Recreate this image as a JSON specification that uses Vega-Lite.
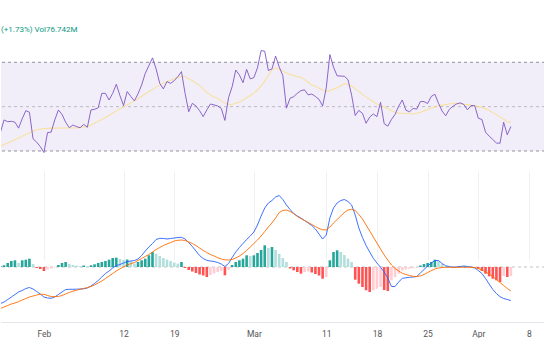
{
"$schema": "https://vega.github.io/schema/vega-lite/v6.json",
"width": 544, "height": 322, "padding": 0, "background": "white",
"autosize": {"type": "pad"},
"config": {"view": {"stroke": null}, "scale": {"continuousPadding": 0}},
"title": {"text": "(+1.73%) Vol76.742M", "anchor": "start", "frame": "group", "offset": -34, "fontSize": 8, "fontWeight": "normal", "color": "#089981", "font": "Roboto"},
"data": {"values": [
{"t":"2024-01-26T00:00","r":38.5,"m":32.2,"a":-3.65,"s":-4.15,"h":0.1,"c":"g"},
{"t":"2024-01-26T12:00","r":44.0,"m":32.9,"a":-3.5,"s":-4.0,"h":0.17,"c":"g"},
{"t":"2024-01-27T00:00","r":43.2,"m":33.6,"a":-3.25,"s":-3.85,"h":0.4,"c":"g"},
{"t":"2024-01-27T12:00","r":43.4,"m":34.3,"a":-3.0,"s":-3.7,"h":0.6,"c":"g"},
{"t":"2024-01-28T00:00","r":43.0,"m":35.1,"a":-2.75,"s":-3.6,"h":0.67,"c":"g"},
{"t":"2024-01-28T12:00","r":40.3,"m":35.9,"a":-2.5,"s":-3.47,"h":0.4,"c":"lg"},
{"t":"2024-01-29T00:00","r":44.5,"m":36.7,"a":-2.35,"s":-3.3,"h":0.67,"c":"g"},
{"t":"2024-01-29T12:00","r":48.2,"m":37.4,"a":-2.15,"s":-3.15,"h":0.73,"c":"g"},
{"t":"2024-01-30T00:00","r":47.5,"m":38.2,"a":-2.05,"s":-3.0,"h":0.83,"c":"g"},
{"t":"2024-01-30T12:00","r":35.5,"m":38.9,"a":-2.2,"s":-2.9,"h":0.3,"c":"lg"},
{"t":"2024-01-31T00:00","r":34.0,"m":39.6,"a":-2.45,"s":-2.8,"h":-0.1,"c":"r"},
{"t":"2024-01-31T12:00","r":32.0,"m":39.9,"a":-2.7,"s":-2.73,"h":-0.2,"c":"r"},
{"t":"2024-02-01T00:00","r":29.3,"m":40.1,"a":-3.0,"s":-2.73,"h":-0.4,"c":"r"},
{"t":"2024-02-01T12:00","r":38.3,"m":40.2,"a":-3.1,"s":-2.85,"h":-0.25,"c":"lr"},
{"t":"2024-02-02T00:00","r":38.5,"m":40.3,"a":-3.13,"s":-2.95,"h":-0.15,"c":"lr"},
{"t":"2024-02-02T12:00","r":44.0,"m":40.3,"a":-3.0,"s":-2.97,"h":-0.05,"c":"lr"},
{"t":"2024-02-03T00:00","r":48.5,"m":40.3,"a":-2.75,"s":-2.95,"h":0.2,"c":"g"},
{"t":"2024-02-03T12:00","r":46.5,"m":40.4,"a":-2.5,"s":-2.85,"h":0.4,"c":"g"},
{"t":"2024-02-04T00:00","r":43.0,"m":40.4,"a":-2.25,"s":-2.7,"h":0.5,"c":"g"},
{"t":"2024-02-04T12:00","r":40.5,"m":40.4,"a":-2.23,"s":-2.55,"h":0.3,"c":"lg"},
{"t":"2024-02-05T00:00","r":41.7,"m":40.4,"a":-2.23,"s":-2.42,"h":0.2,"c":"lg"},
{"t":"2024-02-05T12:00","r":41.0,"m":40.4,"a":-2.22,"s":-2.32,"h":0.15,"c":"lg"},
{"t":"2024-02-06T00:00","r":40.5,"m":40.6,"a":-2.2,"s":-2.23,"h":0.1,"c":"lg"},
{"t":"2024-02-06T12:00","r":42.0,"m":40.8,"a":-2.18,"s":-2.15,"h":0.15,"c":"g"},
{"t":"2024-02-07T00:00","r":40.7,"m":41.0,"a":-2.1,"s":-2.05,"h":0.05,"c":"lg"},
{"t":"2024-02-07T12:00","r":48.5,"m":41.7,"a":-1.9,"s":-1.95,"h":0.17,"c":"g"},
{"t":"2024-02-08T00:00","r":48.8,"m":42.6,"a":-1.65,"s":-1.8,"h":0.27,"c":"g"},
{"t":"2024-02-08T12:00","r":49.5,"m":43.4,"a":-1.35,"s":-1.6,"h":0.4,"c":"g"},
{"t":"2024-02-09T00:00","r":56.0,"m":44.2,"a":-1.0,"s":-1.4,"h":0.5,"c":"g"},
{"t":"2024-02-09T12:00","r":56.0,"m":45.1,"a":-0.65,"s":-1.15,"h":0.6,"c":"g"},
{"t":"2024-02-10T00:00","r":53.0,"m":46.0,"a":-0.4,"s":-0.9,"h":0.73,"c":"g"},
{"t":"2024-02-10T12:00","r":56.0,"m":47.1,"a":-0.1,"s":-0.65,"h":0.9,"c":"g"},
{"t":"2024-02-11T00:00","r":60.1,"m":48.1,"a":0.15,"s":-0.4,"h":0.93,"c":"g"},
{"t":"2024-02-11T12:00","r":55.0,"m":49.1,"a":0.25,"s":-0.18,"h":0.8,"c":"lg"},
{"t":"2024-02-12T00:00","r":50.5,"m":49.9,"a":0.4,"s":0.02,"h":0.7,"c":"lg"},
{"t":"2024-02-12T12:00","r":56.8,"m":50.7,"a":0.53,"s":0.2,"h":0.75,"c":"g"},
{"t":"2024-02-13T00:00","r":54.6,"m":51.6,"a":0.6,"s":0.33,"h":0.6,"c":"lg"},
{"t":"2024-02-13T12:00","r":52.6,"m":52.6,"a":0.65,"s":0.45,"h":0.35,"c":"lg"},
{"t":"2024-02-14T00:00","r":55.8,"m":53.6,"a":0.8,"s":0.65,"h":0.5,"c":"g"},
{"t":"2024-02-14T12:00","r":59.8,"m":54.7,"a":1.15,"s":0.85,"h":0.67,"c":"g"},
{"t":"2024-02-15T00:00","r":65.0,"m":55.7,"a":1.6,"s":1.05,"h":0.83,"c":"g"},
{"t":"2024-02-15T12:00","r":68.5,"m":56.8,"a":2.0,"s":1.25,"h":1.17,"c":"g"},
{"t":"2024-02-16T00:00","r":72.0,"m":57.8,"a":2.35,"s":1.5,"h":1.5,"c":"g"},
{"t":"2024-02-16T12:00","r":67.0,"m":58.8,"a":2.75,"s":1.75,"h":1.33,"c":"lg"},
{"t":"2024-02-17T00:00","r":60.5,"m":59.7,"a":2.87,"s":1.95,"h":1.1,"c":"lg"},
{"t":"2024-02-17T12:00","r":58.0,"m":60.6,"a":2.85,"s":2.15,"h":0.9,"c":"lg"},
{"t":"2024-02-18T00:00","r":61.3,"m":61.2,"a":2.8,"s":2.3,"h":0.75,"c":"lg"},
{"t":"2024-02-18T12:00","r":60.5,"m":61.9,"a":2.85,"s":2.45,"h":0.6,"c":"lg"},
{"t":"2024-02-19T00:00","r":61.7,"m":62.6,"a":2.9,"s":2.6,"h":0.45,"c":"lg"},
{"t":"2024-02-19T12:00","r":63.5,"m":63.2,"a":2.95,"s":2.67,"h":0.33,"c":"lg"},
{"t":"2024-02-20T00:00","r":65.8,"m":63.6,"a":2.97,"s":2.7,"h":0.5,"c":"g"},
{"t":"2024-02-20T12:00","r":56.0,"m":63.6,"a":2.8,"s":2.65,"h":-0.1,"c":"r"},
{"t":"2024-02-21T00:00","r":47.7,"m":62.6,"a":2.45,"s":2.5,"h":-0.3,"c":"r"},
{"t":"2024-02-21T12:00","r":51.5,"m":61.7,"a":2.05,"s":2.35,"h":-0.45,"c":"r"},
{"t":"2024-02-22T00:00","r":50.3,"m":60.7,"a":1.6,"s":2.15,"h":-0.6,"c":"r"},
{"t":"2024-02-22T12:00","r":48.2,"m":59.5,"a":1.15,"s":1.9,"h":-0.75,"c":"r"},
{"t":"2024-02-23T00:00","r":45.5,"m":58.0,"a":0.85,"s":1.65,"h":-0.85,"c":"r"},
{"t":"2024-02-23T12:00","r":48.5,"m":56.5,"a":0.67,"s":1.45,"h":-1.0,"c":"r"},
{"t":"2024-02-24T00:00","r":51.2,"m":55.3,"a":0.6,"s":1.25,"h":-0.8,"c":"lr"},
{"t":"2024-02-24T12:00","r":50.8,"m":54.4,"a":0.55,"s":1.1,"h":-0.65,"c":"lr"},
{"t":"2024-02-25T00:00","r":50.3,"m":53.8,"a":0.45,"s":0.93,"h":-0.5,"c":"lr"},
{"t":"2024-02-25T12:00","r":49.2,"m":52.6,"a":0.3,"s":0.8,"h":-0.4,"c":"lr"},
{"t":"2024-02-26T00:00","r":43.8,"m":51.6,"a":0.05,"s":0.72,"h":-0.83,"c":"r"},
{"t":"2024-02-26T12:00","r":54.0,"m":51.0,"a":0.35,"s":0.7,"h":-0.3,"c":"lr"},
{"t":"2024-02-27T00:00","r":59.0,"m":51.0,"a":0.95,"s":0.75,"h":0.2,"c":"g"},
{"t":"2024-02-27T12:00","r":66.5,"m":51.6,"a":1.5,"s":0.9,"h":0.5,"c":"g"},
{"t":"2024-02-28T00:00","r":64.3,"m":52.1,"a":1.95,"s":1.1,"h":0.67,"c":"g"},
{"t":"2024-02-28T12:00","r":60.8,"m":53.0,"a":2.35,"s":1.35,"h":0.83,"c":"g"},
{"t":"2024-02-29T00:00","r":66.8,"m":54.0,"a":2.75,"s":1.65,"h":1.17,"c":"g"},
{"t":"2024-02-29T12:00","r":62.5,"m":55.0,"a":3.1,"s":2.0,"h":1.1,"c":"lg"},
{"t":"2024-03-01T00:00","r":63.1,"m":56.1,"a":3.5,"s":2.35,"h":1.17,"c":"g"},
{"t":"2024-03-01T12:00","r":67.5,"m":57.5,"a":4.2,"s":2.7,"h":1.4,"c":"g"},
{"t":"2024-03-02T00:00","r":75.3,"m":59.4,"a":5.1,"s":3.1,"h":1.7,"c":"g"},
{"t":"2024-03-02T12:00","r":75.0,"m":61.5,"a":5.9,"s":3.55,"h":2.17,"c":"g"},
{"t":"2024-03-03T00:00","r":66.3,"m":64.0,"a":6.4,"s":4.0,"h":1.9,"c":"lg"},
{"t":"2024-03-03T12:00","r":67.0,"m":66.5,"a":6.65,"s":4.4,"h":2.0,"c":"g"},
{"t":"2024-03-04T00:00","r":72.8,"m":67.5,"a":7.0,"s":4.9,"h":1.7,"c":"lg"},
{"t":"2024-03-04T12:00","r":67.9,"m":66.8,"a":7.15,"s":5.45,"h":1.3,"c":"lg"},
{"t":"2024-03-05T00:00","r":64.0,"m":66.0,"a":6.75,"s":5.65,"h":0.9,"c":"lg"},
{"t":"2024-03-05T12:00","r":49.3,"m":65.2,"a":6.2,"s":5.7,"h":0.5,"c":"lg"},
{"t":"2024-03-06T00:00","r":53.8,"m":64.5,"a":5.75,"s":5.55,"h":-0.15,"c":"r"},
{"t":"2024-03-06T12:00","r":54.5,"m":64.0,"a":5.35,"s":5.35,"h":-0.33,"c":"r"},
{"t":"2024-03-07T00:00","r":56.0,"m":63.5,"a":5.1,"s":5.05,"h":-0.5,"c":"r"},
{"t":"2024-03-07T12:00","r":57.2,"m":63.2,"a":4.9,"s":4.85,"h":-0.67,"c":"r"},
{"t":"2024-03-08T00:00","r":57.6,"m":62.2,"a":4.65,"s":4.65,"h":-0.5,"c":"lr"},
{"t":"2024-03-08T12:00","r":55.3,"m":61.0,"a":4.4,"s":4.45,"h":-0.45,"c":"lr"},
{"t":"2024-03-09T00:00","r":55.7,"m":59.8,"a":4.15,"s":4.25,"h":-0.55,"c":"r"},
{"t":"2024-03-09T12:00","r":54.6,"m":59.2,"a":3.8,"s":4.05,"h":-0.7,"c":"r"},
{"t":"2024-03-10T00:00","r":53.3,"m":58.3,"a":3.3,"s":3.85,"h":-0.85,"c":"r"},
{"t":"2024-03-10T12:00","r":50.3,"m":57.5,"a":2.8,"s":3.73,"h":-1.17,"c":"r"},
{"t":"2024-03-11T00:00","r":58.5,"m":56.9,"a":3.2,"s":3.7,"h":-1.0,"c":"lr"},
{"t":"2024-03-11T12:00","r":73.5,"m":57.3,"a":4.9,"s":4.0,"h":0.67,"c":"g"},
{"t":"2024-03-12T00:00","r":67.8,"m":57.9,"a":5.9,"s":4.4,"h":1.5,"c":"g"},
{"t":"2024-03-12T12:00","r":63.9,"m":58.5,"a":6.4,"s":4.75,"h":1.67,"c":"g"},
{"t":"2024-03-13T00:00","r":63.8,"m":59.4,"a":6.65,"s":5.1,"h":1.5,"c":"lg"},
{"t":"2024-03-13T12:00","r":63.7,"m":60.4,"a":6.75,"s":5.45,"h":1.2,"c":"lg"},
{"t":"2024-03-14T00:00","r":62.2,"m":60.0,"a":6.55,"s":5.7,"h":0.85,"c":"lg"},
{"t":"2024-03-14T12:00","r":55.2,"m":59.3,"a":6.2,"s":5.77,"h":0.5,"c":"lg"},
{"t":"2024-03-15T00:00","r":46.0,"m":58.0,"a":5.2,"s":5.65,"h":-1.27,"c":"r"},
{"t":"2024-03-15T12:00","r":48.3,"m":56.9,"a":3.9,"s":5.25,"h":-1.67,"c":"r"},
{"t":"2024-03-16T00:00","r":47.0,"m":55.4,"a":2.95,"s":4.8,"h":-2.0,"c":"r"},
{"t":"2024-03-16T12:00","r":42.5,"m":54.4,"a":2.15,"s":4.2,"h":-2.33,"c":"r"},
{"t":"2024-03-17T00:00","r":45.3,"m":53.3,"a":1.5,"s":3.6,"h":-2.5,"c":"r"},
{"t":"2024-03-17T12:00","r":46.7,"m":52.2,"a":0.87,"s":3.0,"h":-2.33,"c":"lr"},
{"t":"2024-03-18T00:00","r":45.5,"m":51.2,"a":0.4,"s":2.4,"h":-2.17,"c":"lr"},
{"t":"2024-03-18T12:00","r":52.0,"m":50.4,"a":-0.03,"s":1.8,"h":-2.0,"c":"lr"},
{"t":"2024-03-19T00:00","r":42.3,"m":49.8,"a":-0.5,"s":1.2,"h":-2.3,"c":"r"},
{"t":"2024-03-19T12:00","r":41.2,"m":49.0,"a":-1.1,"s":0.7,"h":-2.4,"c":"r"},
{"t":"2024-03-20T00:00","r":44.2,"m":48.3,"a":-1.95,"s":0.2,"h":-1.33,"c":"lr"},
{"t":"2024-03-20T12:00","r":46.5,"m":47.6,"a":-1.95,"s":-0.15,"h":-1.0,"c":"lr"},
{"t":"2024-03-21T00:00","r":50.2,"m":47.1,"a":-1.5,"s":-0.4,"h":-0.67,"c":"lr"},
{"t":"2024-03-21T12:00","r":53.0,"m":47.0,"a":-1.13,"s":-0.63,"h":-0.35,"c":"lr"},
{"t":"2024-03-22T00:00","r":48.4,"m":46.9,"a":-1.08,"s":-0.75,"h":-0.25,"c":"lr"},
{"t":"2024-03-22T12:00","r":47.7,"m":46.8,"a":-1.03,"s":-0.85,"h":-0.18,"c":"lr"},
{"t":"2024-03-23T00:00","r":49.2,"m":46.7,"a":-1.0,"s":-0.93,"h":-0.12,"c":"lr"},
{"t":"2024-03-23T12:00","r":48.9,"m":47.0,"a":-0.95,"s":-0.95,"h":-0.05,"c":"lr"},
{"t":"2024-03-24T00:00","r":52.3,"m":47.5,"a":-0.6,"s":-0.9,"h":0.15,"c":"g"},
{"t":"2024-03-24T12:00","r":52.3,"m":48.1,"a":-0.25,"s":-0.75,"h":0.3,"c":"g"},
{"t":"2024-03-25T00:00","r":51.4,"m":48.7,"a":0.1,"s":-0.55,"h":0.4,"c":"g"},
{"t":"2024-03-25T12:00","r":54.6,"m":49.3,"a":0.4,"s":-0.37,"h":0.5,"c":"g"},
{"t":"2024-03-26T00:00","r":55.6,"m":49.9,"a":0.65,"s":-0.2,"h":0.73,"c":"g"},
{"t":"2024-03-26T12:00","r":51.5,"m":50.4,"a":0.65,"s":-0.1,"h":0.6,"c":"lg"},
{"t":"2024-03-27T00:00","r":48.0,"m":50.7,"a":0.35,"s":-0.05,"h":0.3,"c":"lg"},
{"t":"2024-03-27T12:00","r":45.9,"m":51.0,"a":0.12,"s":-0.03,"h":0.1,"c":"lg"},
{"t":"2024-03-28T00:00","r":48.8,"m":51.2,"a":0.05,"s":-0.03,"h":0.05,"c":"lg"},
{"t":"2024-03-28T12:00","r":50.2,"m":51.4,"a":-0.03,"s":-0.03,"h":-0.03,"c":"r"},
{"t":"2024-03-29T00:00","r":51.2,"m":51.5,"a":0.0,"s":-0.03,"h":0.03,"c":"g"},
{"t":"2024-03-29T12:00","r":51.7,"m":51.3,"a":0.05,"s":-0.03,"h":0.05,"c":"g"},
{"t":"2024-03-30T00:00","r":51.0,"m":51.1,"a":0.1,"s":-0.03,"h":0.06,"c":"g"},
{"t":"2024-03-30T12:00","r":48.6,"m":50.9,"a":0.05,"s":-0.03,"h":0.03,"c":"lg"},
{"t":"2024-03-31T00:00","r":50.5,"m":50.7,"a":0.0,"s":-0.03,"h":0.02,"c":"lg"},
{"t":"2024-03-31T12:00","r":50.5,"m":50.4,"a":-0.1,"s":-0.05,"h":-0.05,"c":"r"},
{"t":"2024-04-01T00:00","r":44.8,"m":50.0,"a":-0.35,"s":-0.15,"h":-0.17,"c":"r"},
{"t":"2024-04-01T12:00","r":44.2,"m":49.6,"a":-0.65,"s":-0.3,"h":-0.4,"c":"r"},
{"t":"2024-04-02T00:00","r":38.5,"m":49.2,"a":-1.15,"s":-0.5,"h":-0.67,"c":"r"},
{"t":"2024-04-02T12:00","r":36.7,"m":48.3,"a":-1.7,"s":-0.7,"h":-0.93,"c":"r"},
{"t":"2024-04-03T00:00","r":35.2,"m":47.3,"a":-2.25,"s":-0.95,"h":-1.17,"c":"r"},
{"t":"2024-04-03T12:00","r":33.6,"m":46.4,"a":-2.65,"s":-1.25,"h":-1.33,"c":"r"},
{"t":"2024-04-04T00:00","r":33.5,"m":45.4,"a":-2.97,"s":-1.55,"h":-1.5,"c":"r"},
{"t":"2024-04-04T12:00","r":43.0,"m":44.3,"a":-3.15,"s":-1.85,"h":-0.9,"c":"lr"},
{"t":"2024-04-05T00:00","r":37.3,"m":43.2,"a":-3.25,"s":-2.15,"h":-1.0,"c":"r"},
{"t":"2024-04-05T12:00","r":41.0,"m":42.8,"a":-3.35,"s":-2.4,"h":-0.9,"c":"lr"}
]},
"layer": [
 {"layer": [
  {"data": {"values": [{}]}, "mark": {"type": "rect", "color": "#7e57c2", "opacity": 0.1},
   "encoding": {"y": {"datum": 70, "type": "quantitative", "scale": {"domain": [30, 70], "range": [151, 62.3], "nice": false, "zero": false}, "axis": null}, "y2": {"datum": 30}}},
  {"data": {"values": [{"v": 70}, {"v": 30}]}, "mark": {"type": "rule", "color": "#787b86", "strokeDash": [3, 3], "strokeWidth": 1, "opacity": 0.8},
   "encoding": {"y": {"field": "v", "type": "quantitative", "scale": {"domain": [30, 70], "range": [151, 62.3], "nice": false, "zero": false}, "axis": null}}},
  {"data": {"values": [{"v": 50}]}, "mark": {"type": "rule", "color": "#787b86", "strokeDash": [3, 3], "strokeWidth": 1, "opacity": 0.45},
   "encoding": {"y": {"field": "v", "type": "quantitative", "scale": {"domain": [30, 70], "range": [151, 62.3], "nice": false, "zero": false}, "axis": null}}},
  {"mark": {"type": "line", "color": "#f9dc7c", "strokeWidth": 1.1, "opacity": 0.7, "clip": true},
   "encoding": {
    "x": {"field": "t", "type": "temporal", "scale": {"padding": 0, "domain": [{"year":2024,"month":1,"date":26,"hours":1,"minutes":47},{"year":2024,"month":4,"date":10,"hours":5,"minutes":5}]},
      "axis": {"title": null, "values": [{"year":2024,"month":2,"date":1},{"year":2024,"month":2,"date":12},{"year":2024,"month":2,"date":19},{"year":2024,"month":3,"date":1},{"year":2024,"month":3,"date":11},{"year":2024,"month":3,"date":18},{"year":2024,"month":3,"date":25},{"year":2024,"month":4,"date":1},{"year":2024,"month":4,"date":8}], "labelExpr": "date(datum.value) == 1 ? timeFormat(datum.value, '%b') : timeFormat(datum.value, '%-d')", "grid": true, "gridColor": "#eef0f4", "domain": true, "domainColor": "#e3e5ea", "ticks": false, "tickSize": 0, "labelPadding": 7, "labelFontSize": 8.5, "labelFont": "Roboto", "labelColor": "#555555", "labelAngle": 0, "labelOverlap": false, "labelFlush": false}},
    "y": {"field": "m", "type": "quantitative", "scale": {"domain": [30, 70], "range": [151, 62.3], "nice": false, "zero": false}, "axis": null}}},
  {"mark": {"type": "line", "color": "#7e57c2", "strokeWidth": 1, "opacity": 0.9, "clip": true},
   "encoding": {
    "x": {"field": "t", "type": "temporal", "scale": {"padding": 0, "domain": [{"year":2024,"month":1,"date":26,"hours":1,"minutes":47},{"year":2024,"month":4,"date":10,"hours":5,"minutes":5}]},
      "axis": {"title": null, "values": [{"year":2024,"month":2,"date":1},{"year":2024,"month":2,"date":12},{"year":2024,"month":2,"date":19},{"year":2024,"month":3,"date":1},{"year":2024,"month":3,"date":11},{"year":2024,"month":3,"date":18},{"year":2024,"month":3,"date":25},{"year":2024,"month":4,"date":1},{"year":2024,"month":4,"date":8}], "labelExpr": "date(datum.value) == 1 ? timeFormat(datum.value, '%b') : timeFormat(datum.value, '%-d')", "grid": true, "gridColor": "#eef0f4", "domain": true, "domainColor": "#e3e5ea", "ticks": false, "tickSize": 0, "labelPadding": 7, "labelFontSize": 8.5, "labelFont": "Roboto", "labelColor": "#555555", "labelAngle": 0, "labelOverlap": false, "labelFlush": false}},
    "y": {"field": "r", "type": "quantitative", "scale": {"domain": [30, 70], "range": [151, 62.3], "nice": false, "zero": false}, "axis": null}}}
 ]},
 {"layer": [
  {"data": {"values": [{"v": 0}]}, "mark": {"type": "rule", "color": "#787b86", "strokeDash": [3, 3], "strokeWidth": 1, "opacity": 0.45},
   "encoding": {"y": {"field": "v", "type": "quantitative", "scale": {"domain": [0, 10], "range": [267, 167], "nice": false, "zero": false}, "axis": null}}},
  {"mark": {"type": "bar", "size": 2.6, "clip": true},
   "encoding": {
    "x": {"field": "t", "type": "temporal", "scale": {"padding": 0, "domain": [{"year":2024,"month":1,"date":26,"hours":1,"minutes":47},{"year":2024,"month":4,"date":10,"hours":5,"minutes":5}]},
      "axis": {"title": null, "values": [{"year":2024,"month":2,"date":1},{"year":2024,"month":2,"date":12},{"year":2024,"month":2,"date":19},{"year":2024,"month":3,"date":1},{"year":2024,"month":3,"date":11},{"year":2024,"month":3,"date":18},{"year":2024,"month":3,"date":25},{"year":2024,"month":4,"date":1},{"year":2024,"month":4,"date":8}], "labelExpr": "date(datum.value) == 1 ? timeFormat(datum.value, '%b') : timeFormat(datum.value, '%-d')", "grid": true, "gridColor": "#eef0f4", "domain": true, "domainColor": "#e3e5ea", "ticks": false, "tickSize": 0, "labelPadding": 7, "labelFontSize": 8.5, "labelFont": "Roboto", "labelColor": "#555555", "labelAngle": 0, "labelOverlap": false, "labelFlush": false}},
    "y": {"field": "h", "type": "quantitative", "scale": {"domain": [0, 10], "range": [267, 167], "nice": false, "zero": false}, "axis": null},
    "y2": {"datum": 0},
    "color": {"field": "c", "type": "nominal", "scale": {"domain": ["g", "lg", "r", "lr"], "range": ["#26a69a", "#b2dfdb", "#ff5252", "#ffcdd2"]}, "legend": null}}},
  {"mark": {"type": "line", "color": "#2962ff", "strokeWidth": 1, "opacity": 0.9, "clip": true},
   "encoding": {
    "x": {"field": "t", "type": "temporal", "scale": {"padding": 0, "domain": [{"year":2024,"month":1,"date":26,"hours":1,"minutes":47},{"year":2024,"month":4,"date":10,"hours":5,"minutes":5}]},
      "axis": {"title": null, "values": [{"year":2024,"month":2,"date":1},{"year":2024,"month":2,"date":12},{"year":2024,"month":2,"date":19},{"year":2024,"month":3,"date":1},{"year":2024,"month":3,"date":11},{"year":2024,"month":3,"date":18},{"year":2024,"month":3,"date":25},{"year":2024,"month":4,"date":1},{"year":2024,"month":4,"date":8}], "labelExpr": "date(datum.value) == 1 ? timeFormat(datum.value, '%b') : timeFormat(datum.value, '%-d')", "grid": true, "gridColor": "#eef0f4", "domain": true, "domainColor": "#e3e5ea", "ticks": false, "tickSize": 0, "labelPadding": 7, "labelFontSize": 8.5, "labelFont": "Roboto", "labelColor": "#555555", "labelAngle": 0, "labelOverlap": false, "labelFlush": false}},
    "y": {"field": "a", "type": "quantitative", "scale": {"domain": [0, 10], "range": [267, 167], "nice": false, "zero": false}, "axis": null}}},
  {"mark": {"type": "line", "color": "#ff6d00", "strokeWidth": 1, "opacity": 0.9, "clip": true},
   "encoding": {
    "x": {"field": "t", "type": "temporal", "scale": {"padding": 0, "domain": [{"year":2024,"month":1,"date":26,"hours":1,"minutes":47},{"year":2024,"month":4,"date":10,"hours":5,"minutes":5}]},
      "axis": {"title": null, "values": [{"year":2024,"month":2,"date":1},{"year":2024,"month":2,"date":12},{"year":2024,"month":2,"date":19},{"year":2024,"month":3,"date":1},{"year":2024,"month":3,"date":11},{"year":2024,"month":3,"date":18},{"year":2024,"month":3,"date":25},{"year":2024,"month":4,"date":1},{"year":2024,"month":4,"date":8}], "labelExpr": "date(datum.value) == 1 ? timeFormat(datum.value, '%b') : timeFormat(datum.value, '%-d')", "grid": true, "gridColor": "#eef0f4", "domain": true, "domainColor": "#e3e5ea", "ticks": false, "tickSize": 0, "labelPadding": 7, "labelFontSize": 8.5, "labelFont": "Roboto", "labelColor": "#555555", "labelAngle": 0, "labelOverlap": false, "labelFlush": false}},
    "y": {"field": "s", "type": "quantitative", "scale": {"domain": [0, 10], "range": [267, 167], "nice": false, "zero": false}, "axis": null}}}
 ]}
],
"resolve": {"scale": {"y": "independent"}}
}
